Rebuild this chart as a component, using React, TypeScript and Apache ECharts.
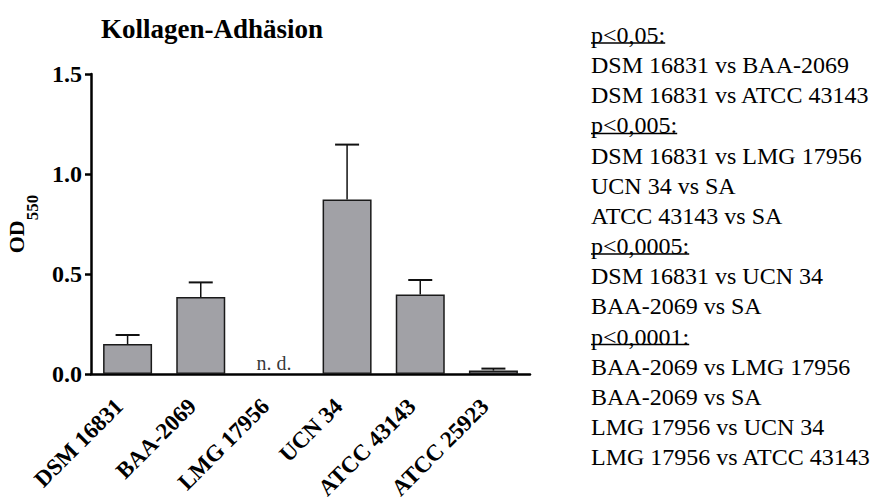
import React, { useEffect, useRef } from "react";
import * as echarts from "echarts";

const categories = ["DSM 16831", "BAA-2069", "LMG 17956", "UCN 34", "ATCC 43143", "ATCC 25923"];
const means: (number | null)[] = [0.15, 0.385, null, 0.873, 0.397, 0.017];
const sds: (number | null)[] = [0.045, 0.073, null, 0.274, 0.073, 0.01];
const yTickInterval = 0.5;
const yMax = 1.5;
const titleText = "Kollagen-Adhäsion";
const notDetectedLabel = "n. d.";
const statLines = [
  "p<0,05:",
  "DSM 16831 vs BAA-2069",
  "DSM 16831 vs ATCC 43143",
  "p<0,005:",
  "DSM 16831 vs LMG 17956",
  "UCN 34 vs SA",
  "ATCC 43143 vs SA",
  "p<0,0005:",
  "DSM 16831 vs UCN 34",
  "BAA-2069 vs SA",
  "p<0,0001:",
  "BAA-2069 vs LMG 17956",
  "BAA-2069 vs SA",
  "LMG 17956 vs UCN 34",
  "LMG 17956 vs ATCC 43143",
];

const FONT = "Liberation Serif";

function measure(text: string, size: number): number {
  const c = document.createElement("canvas").getContext("2d");
  if (!c) return text.length * size * 0.5;
  c.font = `${size}px "${FONT}"`;
  return c.measureText(text).width;
}

export default function App() {
  const ref = useRef<HTMLDivElement>(null);
  useEffect(() => {
    if (!ref.current) return;
    const chart = echarts.init(ref.current, null, { renderer: "svg" });

    const errData = categories
      .map((_, i) => (means[i] == null ? null : [i, means[i] as number, (means[i] as number) + (sds[i] as number)]))
      .filter((d) => d !== null) as number[][];
    const ndData = categories.map((_, i) => (means[i] == null ? [i, 0] : null)).filter((d) => d !== null) as number[][];

    const legendX = 591;
    const legendY0 = 35;
    const legendStep = 30.15;
    const legendSize = 24;
    const graphics: any[] = [];
    statLines.forEach((t, i) => {
      const y = legendY0 + i * legendStep;
      graphics.push({
        type: "text",
        x: legendX,
        y,
        style: { text: t, fontSize: legendSize, fontFamily: FONT, fill: "#000", verticalAlign: "middle", align: "left" },
      });
      if (t.startsWith("p<")) {
        const w = measure(t, legendSize);
        graphics.push({
          type: "line",
          shape: { x1: legendX, y1: y + 8, x2: legendX + w, y2: y + 8 },
          style: { stroke: "#000", lineWidth: 1.5 },
        });
      }
    });

    chart.setOption({
      animation: false,
      backgroundColor: "#fff",
      title: {
        text: titleText,
        left: 96,
        top: 10,
        textStyle: { fontFamily: FONT, fontSize: 27, fontWeight: "bold", color: "#000" },
      },
      grid: { left: 91, top: 74, width: 439, height: 300, containLabel: false, outerBoundsMode: "none" },
      xAxis: {
        type: "category",
        data: categories,
        axisLine: { lineStyle: { color: "#000", width: 2.5 } },
        axisTick: { show: false },
        axisLabel: {
          rotate: 45,
          margin: 20,
          padding: [0, 12, 0, 0],
          interval: 0,
          fontFamily: FONT,
          fontSize: 23,
          fontWeight: "bold",
          color: "#000",
        },
      },
      yAxis: {
        type: "value",
        min: 0,
        max: yMax,
        interval: yTickInterval,
        name: "{a|OD}{b|550}",
        nameLocation: "middle",
        nameRotate: 90,
        nameGap: 43,
        nameTextStyle: {
          rich: {
            a: { fontFamily: FONT, fontSize: 22, fontWeight: "bold", color: "#000", lineHeight: 22, verticalAlign: "top" },
            b: { fontFamily: FONT, fontSize: 17, fontWeight: "bold", color: "#000", lineHeight: 36, verticalAlign: "bottom" },
          },
        },
        splitLine: { show: false },
        axisLine: { show: true, lineStyle: { color: "#000", width: 2.5 } },
        axisTick: { show: true, length: 6, lineStyle: { color: "#000", width: 2.5 } },
        axisLabel: {
          margin: 9,
          fontFamily: FONT,
          fontSize: 24,
          fontWeight: "bold",
          color: "#000",
          formatter: (v: number) => v.toFixed(1),
        },
      },
      series: [
        {
          type: "bar",
          data: means.map((v) => (v == null ? "-" : v)),
          barWidth: 49,
          itemStyle: { color: "#a1a1a6", borderColor: "#1a1a1a", borderWidth: 1.5 },
        },
        {
          type: "custom",
          data: errData,
          renderItem: (_p: any, api: any) => {
            const i = api.value(0);
            const p0 = api.coord([i, api.value(1)]);
            const p1 = api.coord([i, api.value(2)]);
            const half = 12;
            return {
              type: "group",
              children: [
                { type: "line", shape: { x1: p0[0], y1: p0[1], x2: p1[0], y2: p1[1] }, style: { stroke: "#111", lineWidth: 1.5 } },
                { type: "line", shape: { x1: p1[0] - half, y1: p1[1], x2: p1[0] + half, y2: p1[1] }, style: { stroke: "#111", lineWidth: 2 } },
              ],
            };
          },
          z: 3,
        },
        {
          type: "scatter",
          data: ndData,
          symbolSize: 0,
          label: {
            show: true,
            position: "top",
            distance: 1,
            formatter: notDetectedLabel,
            fontFamily: FONT,
            fontSize: 20,
            color: "#000",
          },
        },
      ],
      graphic: graphics,
    });
    return () => chart.dispose();
  }, []);
  return <div ref={ref} style={{ position: "absolute", left: 0, top: 0, width: 874, height: 500, background: "#fff" }} />;
}
